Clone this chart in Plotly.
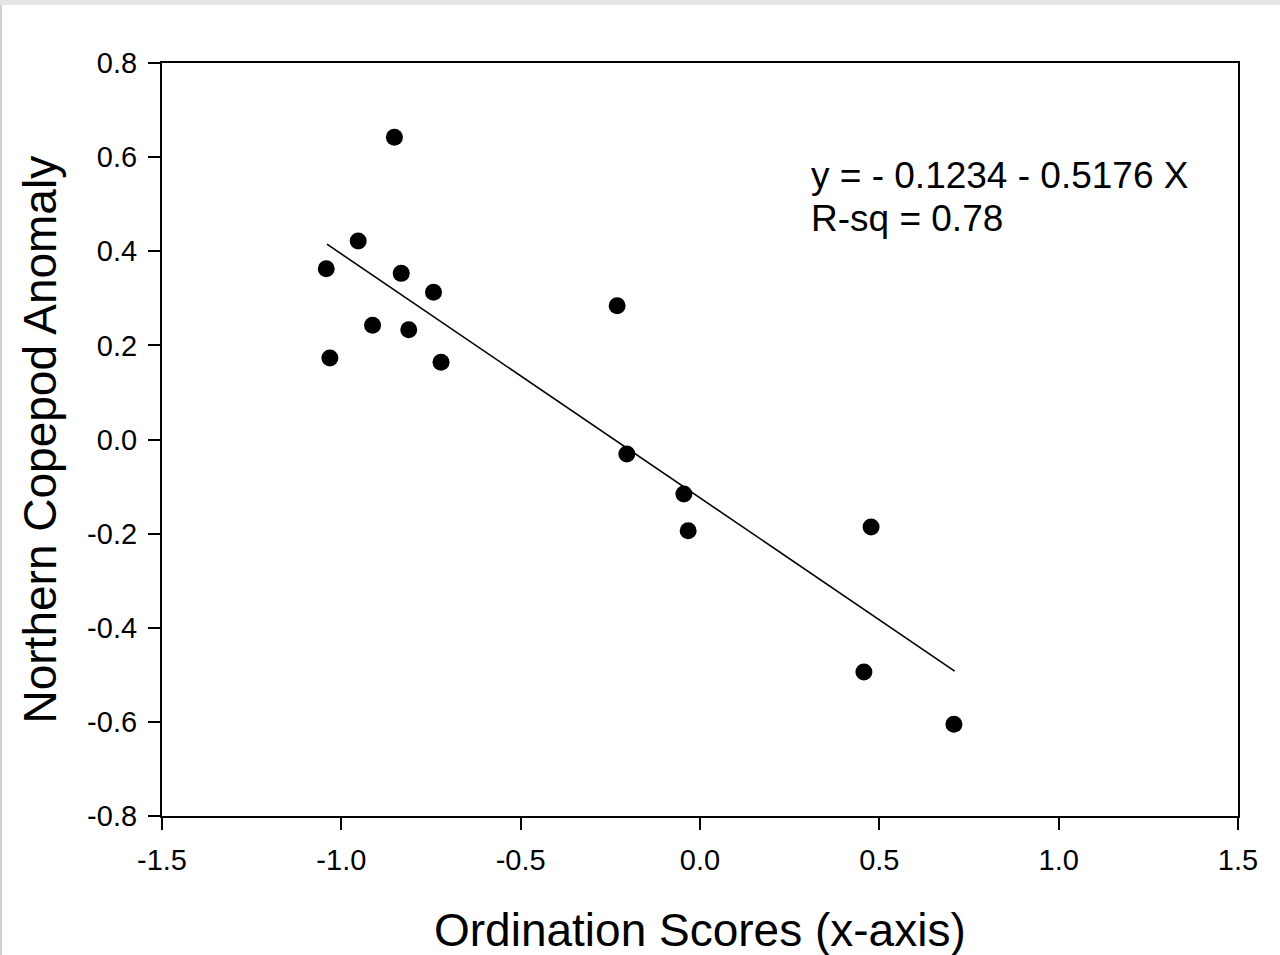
import plotly.graph_objects as go

# Data
ordination_scores = [-1.042, -1.032, -0.953, -0.913, -0.852, -0.833, -0.812, -0.743,
                     -0.722, -0.231, -0.204, -0.045, -0.033, 0.477, 0.457, 0.708]
copepod_anomaly = [0.363, 0.173, 0.422, 0.243, 0.642, 0.353, 0.233, 0.313,
                   0.164, 0.284, -0.031, -0.116, -0.194, -0.186, -0.494, -0.605]

# Regression line endpoints
fit_x = [-1.04, 0.71]
fit_y = [0.415, -0.492]

x_ticks = [-1.5, -1.0, -0.5, 0.0, 0.5, 1.0, 1.5]
x_tick_labels = ["-1.5", "-1.0", "-0.5", "0.0", "0.5", "1.0", "1.5"]
y_ticks = [-0.8, -0.6, -0.4, -0.2, 0.0, 0.2, 0.4, 0.6, 0.8]
y_tick_labels = ["-0.8", "-0.6", "-0.4", "-0.2", "0.0", "0.2", "0.4", "0.6", "0.8"]

eq_line1 = "y = - 0.1234 - 0.5176 X"
eq_line2 = "R-sq = 0.78"
x_title = "Ordination Scores (x-axis)"
y_title = "Northern Copepod Anomaly"

FONT = "Liberation Sans, Arial, sans-serif"

W, H = 1280, 955
L, R, T, B = 162, 42, 63, 139
pw, ph = W - L - R, H - T - B

def px_x(p):
    return (p - L) / pw

def px_y(p):
    return (H - B - p) / ph

fig = go.Figure()
fig.add_trace(go.Scatter(x=fit_x, y=fit_y, mode="lines",
                         line=dict(color="black", width=1.6), showlegend=False))
fig.add_trace(go.Scatter(x=ordination_scores, y=copepod_anomaly, mode="markers",
                         marker=dict(color="black", size=17, line=dict(width=0)),
                         showlegend=False))

axis_common = dict(showgrid=False, zeroline=False, showline=True, linecolor="black",
                   linewidth=2.2, ticks="outside", ticklen=12, tickwidth=2.2,
                   tickcolor="black", mirror=True,
                   tickfont=dict(family=FONT, size=29, color="black"))

fig.update_xaxes(range=[-1.5, 1.5], tickvals=x_ticks, ticktext=x_tick_labels,
                 ticklabelstandoff=5, **axis_common)
fig.update_yaxes(range=[-0.8, 0.8], tickvals=y_ticks, ticktext=y_tick_labels,
                 ticklabelstandoff=5, **axis_common)

annotations = [
    dict(x=0.305, y=0.560, xref="x", yref="y", text=eq_line1, showarrow=False,
         xanchor="left", yanchor="middle",
         font=dict(family=FONT, size=37, color="black")),
    dict(x=0.305, y=0.4686, xref="x", yref="y", text=eq_line2, showarrow=False,
         xanchor="left", yanchor="middle",
         font=dict(family=FONT, size=37, color="black")),
    dict(x=0.5, y=px_y(930), xref="paper", yref="paper", text=x_title, showarrow=False,
         xanchor="center", yanchor="middle",
         font=dict(family=FONT, size=46, color="black")),
    dict(x=px_x(39), y=0.5, xref="paper", yref="paper", text=y_title, showarrow=False,
         xanchor="center", yanchor="middle", textangle=-90,
         font=dict(family=FONT, size=46, color="black")),
]

shapes = [
    # light grey strip along the top
    dict(type="rect", xref="paper", yref="paper", x0=px_x(0), x1=px_x(W),
         y0=px_y(5), y1=px_y(0), fillcolor="#e4e4e4", line=dict(width=0), layer="below"),
    # grey strip along the left edge
    dict(type="rect", xref="paper", yref="paper", x0=px_x(0), x1=px_x(2),
         y0=px_y(H), y1=px_y(5), fillcolor="#cfcfcf", line=dict(width=0), layer="below"),
]

fig.update_layout(width=W, height=H, autosize=False,
                  margin=dict(l=L, r=R, t=T, b=B, pad=0),
                  paper_bgcolor="white", plot_bgcolor="white",
                  annotations=annotations, shapes=shapes,
                  font=dict(family=FONT, color="black"))

fig.write_html("out.html")
